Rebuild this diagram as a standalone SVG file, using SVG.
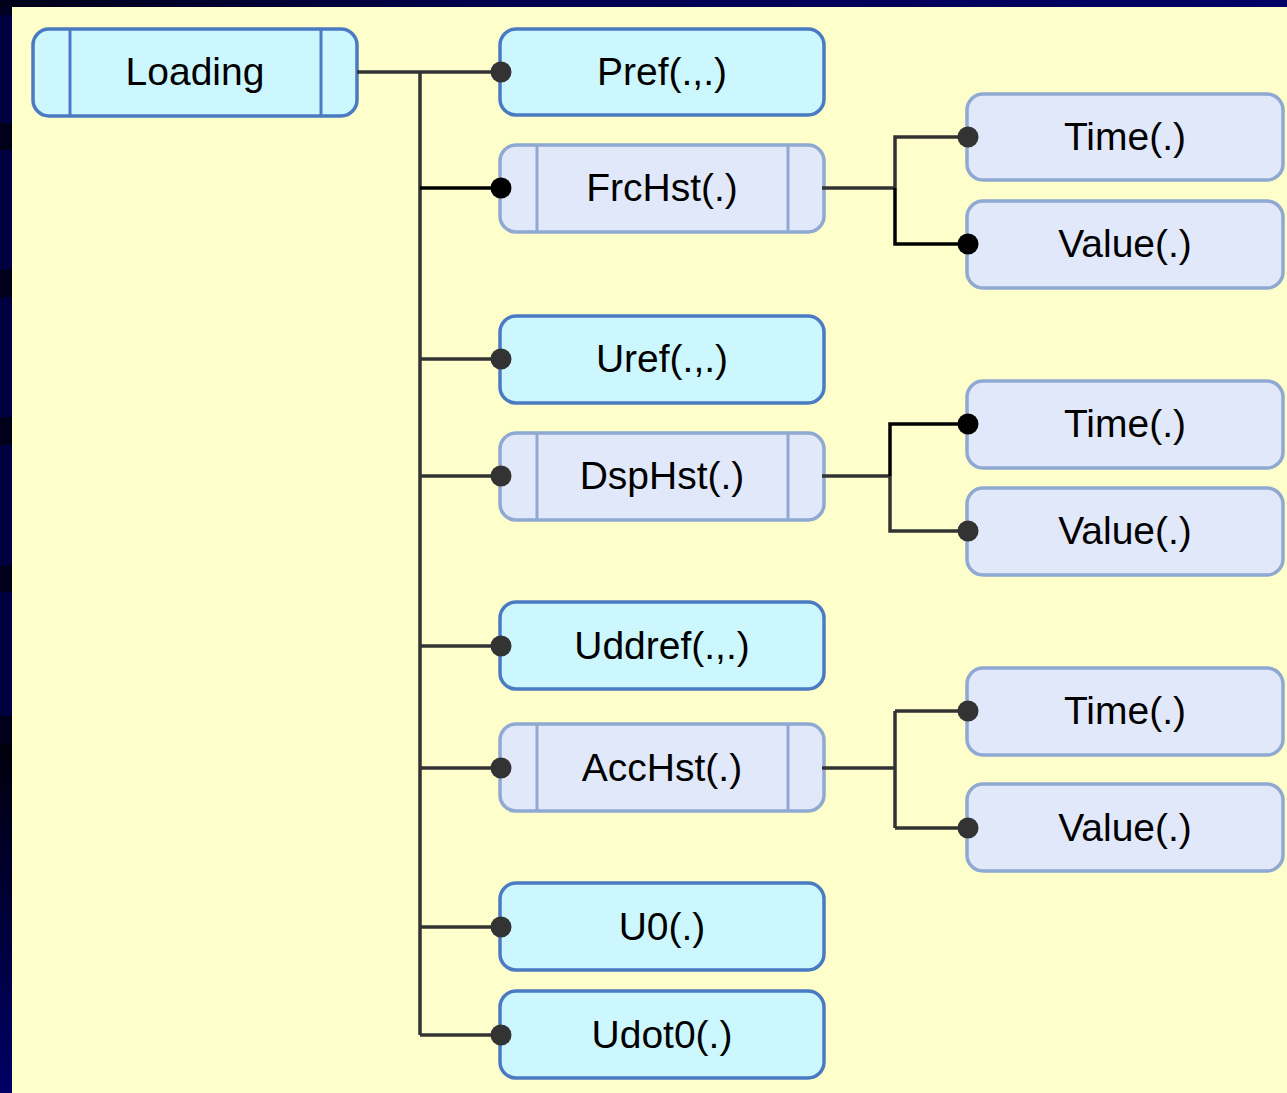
<svg xmlns="http://www.w3.org/2000/svg" width="1287" height="1093" viewBox="0 0 1287 1093">
<defs>
<linearGradient id="topg" x1="0" y1="0" x2="1" y2="0"><stop offset="0" stop-color="#000018"/><stop offset="0.4" stop-color="#000050"/><stop offset="1" stop-color="#000066"/></linearGradient>
<linearGradient id="botg" x1="0" y1="0" x2="0" y2="1"><stop offset="0" stop-color="#00000c"/><stop offset="1" stop-color="#000066"/></linearGradient>
<style>
.a{fill:#ccf7ff;stroke:#4a7bc2;stroke-width:3.5}
.b{fill:#e1e8fa;stroke:#8fa9d2;stroke-width:3.5}
.la{stroke:#4a7bc2;stroke-width:3}
.lb{stroke:#8fa9d2;stroke-width:3}
text{font-family:"Liberation Sans",Arial,sans-serif;font-size:39px;fill:#000;text-anchor:middle}
.w{fill:none;stroke:#333;stroke-width:3.5}
.k{fill:none;stroke:#000;stroke-width:3.5}
.d{fill:#333}
.dk{fill:#000}
</style>
</defs>
<rect x="0" y="0" width="1287" height="1093" fill="#ffffcc"/>
<rect x="0" y="0" width="1287" height="7" fill="url(#topg)"/>
<g id="leftstrip">
<rect x="0" y="7" width="12" height="737" fill="#000040"/>
<rect x="0" y="7" width="12" height="8" fill="#000020"/>
<rect x="0" y="123" width="12" height="27" fill="#000018"/>
<rect x="0" y="270" width="12" height="27" fill="#000018"/>
<rect x="0" y="417" width="12" height="28" fill="#000018"/>
<rect x="0" y="566" width="12" height="26" fill="#000018"/>
<rect x="0" y="716" width="12" height="28" fill="#000018"/>
<rect x="0" y="744" width="12" height="349" fill="url(#botg)"/>
</g>
<g id="loading"><rect class="a" x="33" y="29" width="324" height="87" rx="16"/><line class="la" x1="70" y1="29" x2="70" y2="116"/><line class="la" x1="321" y1="29" x2="321" y2="116"/><text x="195" y="85">Loading</text></g>
<g id="pref"><rect class="a" x="500" y="29" width="324" height="86" rx="16"/><text x="662" y="85">Pref(.,.)</text></g>
<g id="frchst"><rect class="b" x="500" y="145" width="324" height="87" rx="16"/><line class="lb" x1="537" y1="145" x2="537" y2="232"/><line class="lb" x1="788" y1="145" x2="788" y2="232"/><text x="662" y="201">FrcHst(.)</text></g>
<g id="uref"><rect class="a" x="500" y="316" width="324" height="87" rx="16"/><text x="662" y="372">Uref(.,.)</text></g>
<g id="dsphst"><rect class="b" x="500" y="433" width="324" height="87" rx="16"/><line class="lb" x1="537" y1="433" x2="537" y2="520"/><line class="lb" x1="788" y1="433" x2="788" y2="520"/><text x="662" y="489">DspHst(.)</text></g>
<g id="uddref"><rect class="a" x="500" y="602" width="324" height="87" rx="16"/><text x="662" y="659">Uddref(.,.)</text></g>
<g id="acchst"><rect class="b" x="500" y="724" width="324" height="87" rx="16"/><line class="lb" x1="537" y1="724" x2="537" y2="811"/><line class="lb" x1="788" y1="724" x2="788" y2="811"/><text x="662" y="781">AccHst(.)</text></g>
<g id="u0"><rect class="a" x="500" y="883" width="324" height="87" rx="16"/><text x="662" y="940">U0(.)</text></g>
<g id="udot0"><rect class="a" x="500" y="991" width="324" height="87" rx="16"/><text x="662" y="1048">Udot0(.)</text></g>
<g id="time1"><rect class="b" x="967" y="94" width="316" height="86" rx="16"/><text x="1125" y="150">Time(.)</text></g>
<g id="value1"><rect class="b" x="967" y="201" width="316" height="87" rx="16"/><text x="1125" y="257">Value(.)</text></g>
<g id="time2"><rect class="b" x="967" y="381" width="316" height="87" rx="16"/><text x="1125" y="437">Time(.)</text></g>
<g id="value2"><rect class="b" x="967" y="488" width="316" height="87" rx="16"/><text x="1125" y="544">Value(.)</text></g>
<g id="time3"><rect class="b" x="967" y="668" width="316" height="87" rx="16"/><text x="1125" y="724">Time(.)</text></g>
<g id="value3"><rect class="b" x="967" y="784" width="316" height="87" rx="16"/><text x="1125" y="841">Value(.)</text></g>
<g id="connectors">
<path class="w" d="M357 72H420M420 72V1035M420 72H500M420 359H500M420 476H500M420 646H500M420 768H500M420 927H500M420 1035H500"/>
<path class="k" d="M420 188H500"/>
<path class="w" d="M822 188H895M895 188V137H967"/>
<path class="k" d="M895 188V244H967"/>
<path class="w" d="M822 476H890M890 476V531H967"/>
<path class="k" d="M890 476V424H967"/>
<path class="w" d="M822 768H895M895 711V828M895 711H967M895 828H967"/>
<circle class="d" cx="501" cy="72" r="10.5"/>
<circle class="dk" cx="501" cy="188" r="10.5"/>
<circle class="d" cx="501" cy="359" r="10.5"/>
<circle class="d" cx="501" cy="476" r="10.5"/>
<circle class="d" cx="501" cy="646" r="10.5"/>
<circle class="d" cx="501" cy="768" r="10.5"/>
<circle class="d" cx="501" cy="927" r="10.5"/>
<circle class="d" cx="501" cy="1035" r="10.5"/>
<circle class="d" cx="968" cy="137" r="10.5"/>
<circle class="dk" cx="968" cy="244" r="10.5"/>
<circle class="dk" cx="968" cy="424" r="10.5"/>
<circle class="d" cx="968" cy="531" r="10.5"/>
<circle class="d" cx="968" cy="711" r="10.5"/>
<circle class="d" cx="968" cy="828" r="10.5"/>
</g>
</svg>
